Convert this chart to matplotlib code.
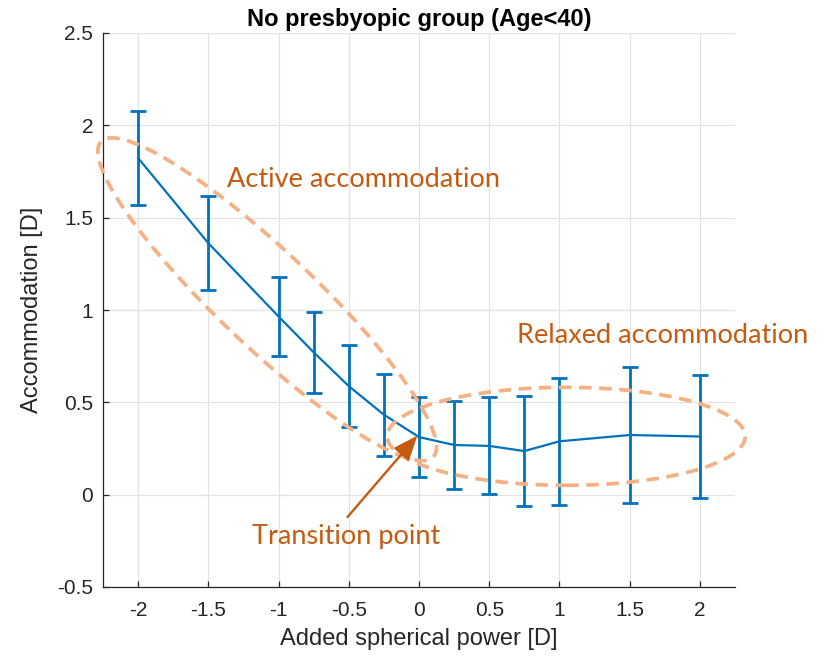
import matplotlib
matplotlib.use("Agg")
import matplotlib.pyplot as plt
import matplotlib.transforms as mtransforms
from matplotlib.patches import Ellipse

# ---- data ----
added_power = [-2, -1.5, -1, -0.75, -0.5, -0.25, 0, 0.25, 0.5, 0.75, 1, 1.5, 2]
accommodation = [1.823, 1.362, 0.965, 0.771, 0.588, 0.433, 0.312, 0.269, 0.264, 0.236, 0.289, 0.323, 0.315]
std_dev = [0.255, 0.256, 0.212, 0.220, 0.221, 0.223, 0.215, 0.239, 0.263, 0.296, 0.345, 0.368, 0.334]
x_ticks = [-2, -1.5, -1, -0.5, 0, 0.5, 1, 1.5, 2]
x_ticklabels = ["-2", "-1.5", "-1", "-0.5", "0", "0.5", "1", "1.5", "2"]
y_ticks = [-0.5, 0, 0.5, 1, 1.5, 2, 2.5]
y_ticklabels = ["-0.5", "0", "0.5", "1", "1.5", "2", "2.5"]
title = "No presbyopic group (Age<40)"
xlabel = "Added spherical power [D]"
ylabel = "Accommodation [D]"

plt.rcParams["axes.unicode_minus"] = False
plt.rcParams["lines.scale_dashes"] = False
plt.rcParams["font.family"] = ["Liberation Sans", "DejaVu Sans"]

BLUE = "#0072BD"
ORANGE_LIGHT = "#F4B183"
ORANGE_DARK = "#C55A11"
AXCOL = "#262626"
ANN_FONT = ["Lato", "DejaVu Sans"]

fig = plt.figure(figsize=(8.38, 6.56), dpi=100)
ax = fig.add_axes([103 / 838, 1 - 587 / 656, (735 - 103) / 838, (587 - 33) / 656])

ax.errorbar(added_power, accommodation, yerr=std_dev, color=BLUE, lw=1.6,
            elinewidth=2.0, capsize=5.5, capthick=2.0, zorder=3)

ax.set_xlim(-2.25, 2.25)
ax.set_ylim(-0.5, 2.5)
ax.set_xticks(x_ticks)
ax.set_xticklabels(x_ticklabels)
ax.set_yticks(y_ticks)
ax.set_yticklabels(y_ticklabels)
ax.grid(True, color="#E3E3E3", lw=0.9, zorder=0)
ax.set_axisbelow(True)
for s in ["top", "right"]:
    ax.spines[s].set_visible(False)
for s in ["left", "bottom"]:
    ax.spines[s].set_color(AXCOL)
    ax.spines[s].set_linewidth(0.9)
ax.tick_params(direction="in", length=4.5, width=0.9, color=AXCOL,
               labelcolor=AXCOL, labelsize=15)
ax.tick_params(axis="x", pad=10)
ax.tick_params(axis="y", pad=7)

ax.set_title(title, fontsize=17, fontweight="bold", color="black", pad=5)
ax.set_xlabel(xlabel, fontsize=17, color=AXCOL, labelpad=6)
ax.set_ylabel(ylabel, fontsize=17, color=AXCOL, labelpad=10)

# ---- annotations: dashed ellipses (sizes in inches, centre in data coords) ----
def add_ellipse(cx, cy, w_in, h_in, angle):
    tr = fig.dpi_scale_trans + mtransforms.ScaledTranslation(cx, cy, ax.transData)
    e = Ellipse((0, 0), w_in, h_in, angle=angle, transform=tr, fill=False,
                edgecolor=ORANGE_LIGHT, lw=2.7, linestyle=(0, (9, 5.5)),
                clip_on=False, zorder=4)
    ax.add_patch(e)

add_ellipse(-1.081, 1.058, 4.58, 0.96, -43.5)
add_ellipse(1.048, 0.316, 3.58, 0.98, 0)

ax.text(-1.37, 1.666, "Active accommodation", color=ORANGE_DARK, fontsize=19.5,
        family=ANN_FONT, ha="left", va="baseline", zorder=5)
ax.text(0.70, 0.821, "Relaxed accommodation", color=ORANGE_DARK, fontsize=19.5,
        family=ANN_FONT, ha="left", va="baseline", zorder=5, clip_on=False)
ax.text(-1.19, -0.269, "Transition point", color=ORANGE_DARK, fontsize=19.5,
        family=ANN_FONT, ha="left", va="baseline", zorder=5)
ax.annotate("", xy=(-0.011, 0.32), xytext=(-0.509, -0.121),
            arrowprops=dict(arrowstyle="-|>,head_length=1.5,head_width=0.6",
                            color=ORANGE_DARK, lw=1.7, shrinkA=0, shrinkB=0),
            zorder=5)

fig.savefig("out.png", dpi=100)
